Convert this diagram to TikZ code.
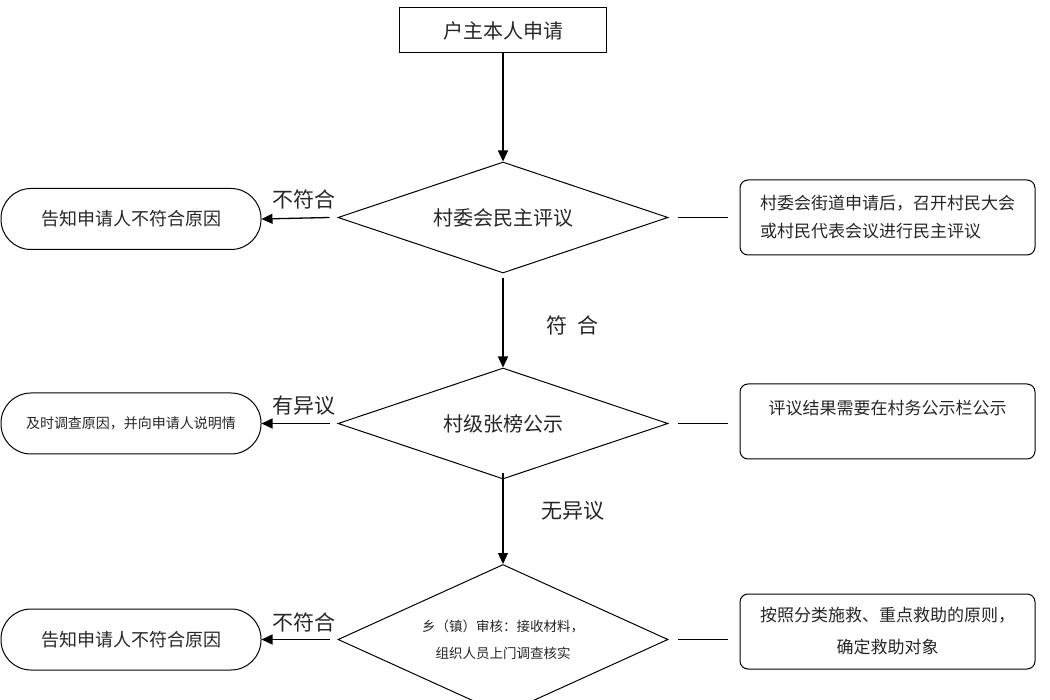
\documentclass[tikz,border=0pt]{standalone}
\usepackage{fontspec}
\setmainfont{Noto Sans CJK SC}
\usetikzlibrary{shapes.geometric,arrows.meta}
\begin{document}
\begin{tikzpicture}[x=1pt,y=-1pt,
  every node/.style={text=black!85},
  topbox/.style={draw,line width=1pt,minimum width=207pt,minimum height=45pt,inner sep=0pt,font=\fontsize{20}{24}\selectfont},
  dia/.style={draw,diamond,aspect=2.97,line width=1pt,minimum width=330pt,minimum height=111pt,inner sep=0pt,font=\fontsize{20}{24}\selectfont},
  stad/.style={draw,rectangle,rounded corners=30pt,line width=1pt,minimum width=260pt,minimum height=61pt,inner sep=0pt,font=\fontsize{18}{22}\selectfont},
  note/.style={draw,rectangle,rounded corners=8pt,line width=1pt,minimum width=295pt,minimum height=75pt,inner sep=0pt,font=\fontsize{17}{28}\selectfont},
  lab/.style={font=\fontsize{21}{24}\selectfont},
  arr/.style={line width=1.3pt,-{Triangle[length=11pt,width=10pt]}},
  ln/.style={line width=1.1pt}
]
\clip (0,0) rectangle (1050,700);
\node[topbox] (a) at (503,30.5) {户主本人申请};
\node[dia] (d1) at (503,217.5) {村委会民主评议};
\node[dia] (d2) at (503,423.5) {村级张榜公示};
\node[dia,aspect=2.2,minimum height=150pt,font=\fontsize{13.5}{27}\selectfont,align=center] (d3) at (503,639.5) {乡（镇）审核：接收材料，\\组织人员上门调查核实};
\node[stad] (s1) at (131,219) {告知申请人不符合原因};
\node[stad,font=\fontsize{14}{18}\selectfont] (s2) at (131,423.5) {及时调查原因，并向申请人说明情};
\node[stad] (s3) at (131,639.5) {告知申请人不符合原因};
\node[note,align=left] (n1) at (887.5,217.5) {村委会街道申请后，召开村民大会\\或村民代表会议进行民主评议};
\node[note,align=center] (n2) at (887.5,421.5) {评议结果需要在村务公示栏公示\\\mbox{}};
\node[note,align=center,font=\fontsize{17}{32}\selectfont] (n3) at (887.5,631.5) {按照分类施救、重点救助的原则，\\确定救助对象};
\draw[arr] (a) -- (d1);
\draw[arr] ([yshift=-5pt]d1.south) -- (d2.north);
\draw[arr] ([yshift=6pt]d2.south) -- (d3.north);
\draw[arr] ([xshift=-8pt]d1.west) -- (s1.east);
\draw[arr] ([xshift=-8pt]d2.west) -- (s2.east);
\draw[arr] ([xshift=-8pt]d3.west) -- (s3.east);
\node[lab] (l1) at (304,199) {不符合};
\node[lab] (l2) at (304,406) {有异议};
\node[lab] (l3) at (304,622) {不符合};
\node[lab] (l4) at (572,325) {符\hspace{10pt}合};
\node[lab] (l5) at (573,511) {无异议};
\draw[ln] ([xshift=9pt]d1.east) -- ([xshift=-12pt]d1.east -| n1.west);
\draw[ln] ([xshift=9pt]d2.east) -- ([xshift=-12pt]d2.east -| n2.west);
\draw[ln] ([xshift=9pt]d3.east) -- ([xshift=-12pt]d3.east -| n3.west);
\end{tikzpicture}
\end{document}
